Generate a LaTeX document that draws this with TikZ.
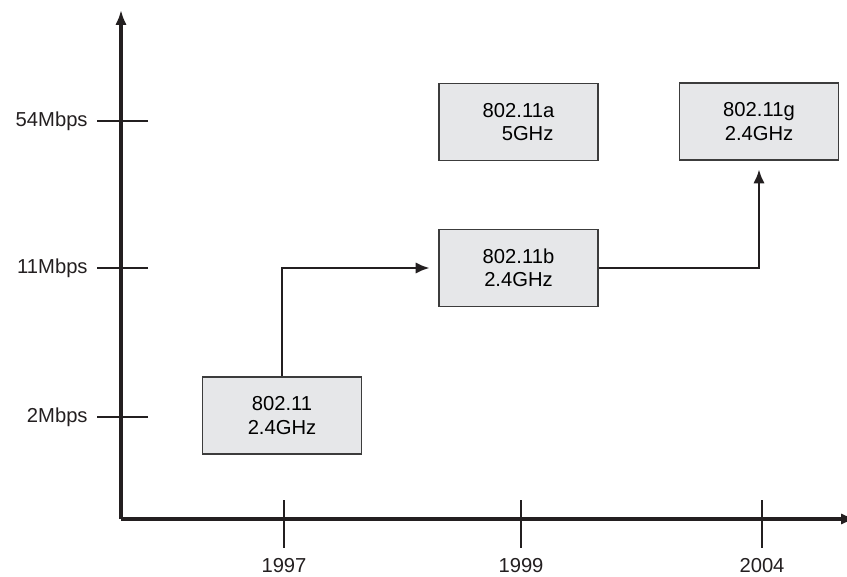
\documentclass[tikz,border=0pt]{standalone}
\usepackage{fontspec}
\setmainfont{Liberation Sans}
\usetikzlibrary{arrows.meta,positioning}
\definecolor{inkdark}{HTML}{231F20}
\definecolor{boxedge}{HTML}{3C3C3C}
\definecolor{boxfill}{HTML}{E6E7E9}
\tikzset{
  stdbox/.style={
    rectangle, draw=boxedge, line width=0.7pt,
    fill=boxfill, align=center, inner sep=0pt,
    minimum width=3.18cm, minimum height=1.54cm,
    font=\fontsize{11.5}{13.2}\selectfont
  },
  flowarrow/.style={-{Latex[length=2.8mm,width=2.3mm]}, line width=1.5pt,
    color=inkdark, shorten >=5pt},
  axisline/.style={-{Latex[length=3mm,width=2.3mm]}, line width=1.9pt, color=inkdark},
  tickline/.style={line width=0.7pt, color=inkdark},
  ticklabel/.style={font=\fontsize{11.5}{13.2}\selectfont, inner sep=0pt, text=inkdark},
}
\begin{document}
\begin{tikzpicture}[x=0.02cm, y=-0.02cm]
  \useasboundingbox (0,0) rectangle (847,577);

  % axes
  \coordinate (origin) at (121,519);
  \coordinate (ytop) at (121,10);
  \coordinate (xend) at (856,519);
  \draw[axisline] (origin) -- (ytop);
  \draw[axisline] (origin) -- (xend);

  % ticks and their labels
  \foreach \yr/\xp in {1997/284,1999/521,2004/762}
    \draw[tickline] (\xp,500) -- (\xp,548) node[ticklabel, below=5.5pt] {\yr};
  \foreach \rate/\yp in {54Mbps/121,11Mbps/268,2Mbps/417}
    \draw[tickline] (148,\yp) -- (97,\yp) node[ticklabel, left=5pt] {\rate};

  % standards
  \node[stdbox] (base) at (282,415.5) {802.11\\2.4GHz};
  \node[stdbox] (stda) at (518.5,122) {802.11a\\\hspace*{0.9em}5GHz};
  \node[stdbox] (stdb) at (518.5,268) {802.11b\\2.4GHz};
  \node[stdbox] (stdg) at (759,121.5) {802.11g\\2.4GHz};

  \draw[flowarrow] (base.north) |- (stdb.west);
  \draw[flowarrow] (stdb.east) -| (stdg.south);
\end{tikzpicture}
\end{document}
